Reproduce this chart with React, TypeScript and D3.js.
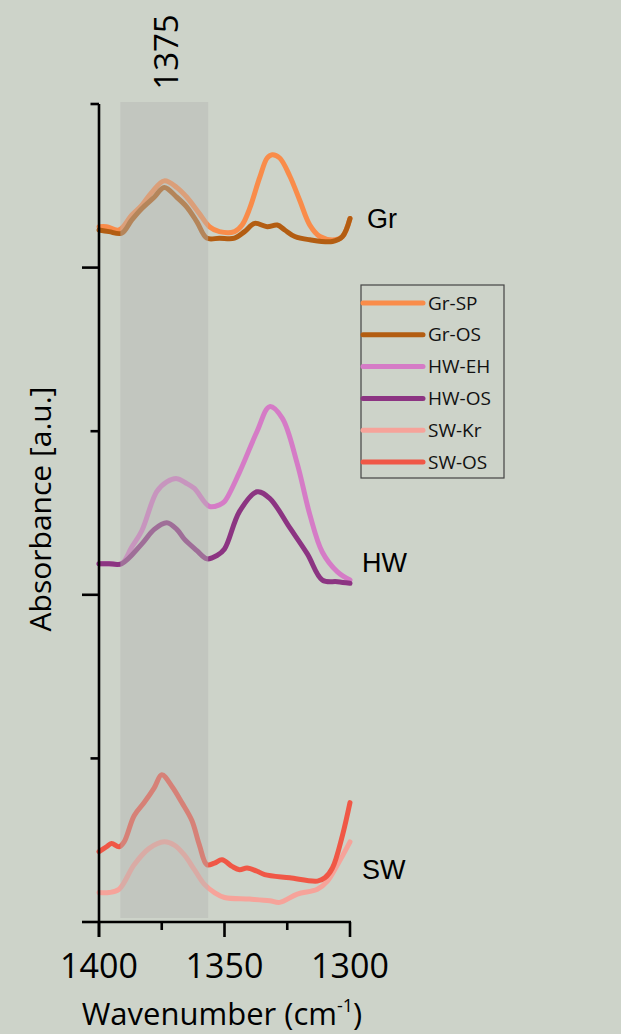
import React from "react";
import * as d3 from "d3";

const W = 621;
const H = 1034;

const seriesNames = ["Gr-SP", "Gr-OS", "HW-EH", "HW-OS", "SW-Kr", "SW-OS"];
const seriesColors = ["#F98C4A", "#B35D12", "#D57BC6", "#8C3482", "#F6A39A", "#F05746"];

const grSP: [number, number][] = [
  [1400, 4.25], [1397, 4.25], [1392, 4.23], [1387, 4.32], [1383, 4.38], [1379, 4.46], [1374, 4.53],
  [1369, 4.49], [1365, 4.43], [1360, 4.33], [1356, 4.25], [1352, 4.22], [1346, 4.22], [1343, 4.26],
  [1340, 4.36], [1336, 4.55], [1333, 4.67], [1331, 4.69], [1328, 4.67], [1324, 4.56], [1320, 4.41],
  [1316, 4.26], [1312, 4.19], [1306, 4.17], [1303, 4.19], [1300, 4.30],
];
const grOS: [number, number][] = [
  [1400, 4.23], [1396, 4.22], [1391, 4.21], [1387, 4.29], [1383, 4.36], [1378, 4.43], [1374, 4.49],
  [1369, 4.43], [1365, 4.37], [1361, 4.28], [1357, 4.18], [1352, 4.18], [1346, 4.18], [1342, 4.22],
  [1338, 4.27], [1333, 4.25], [1329, 4.26], [1326, 4.23], [1322, 4.19], [1316, 4.17], [1307, 4.16],
  [1303, 4.19], [1300, 4.30],
];
const hwEH: [number, number][] = [
  [1400, 2.19], [1396, 2.19], [1391, 2.19], [1387, 2.29], [1383, 2.39], [1377, 2.63], [1373, 2.69],
  [1369, 2.71], [1365, 2.68], [1362, 2.65], [1356, 2.54], [1352, 2.55], [1350, 2.57], [1344, 2.75],
  [1337, 3.00], [1332, 3.15], [1327, 3.08], [1321, 2.80], [1316, 2.49], [1311, 2.26], [1305, 2.14],
  [1300, 2.09],
];
const hwOS: [number, number][] = [
  [1400, 2.19], [1396, 2.19], [1391, 2.19], [1383, 2.31], [1378, 2.40], [1373, 2.44], [1369, 2.40],
  [1366, 2.34], [1361, 2.27], [1357, 2.22], [1353, 2.24], [1350, 2.28], [1344, 2.51], [1337, 2.63],
  [1332, 2.59], [1324, 2.41], [1317, 2.25], [1311, 2.09], [1305, 2.08], [1300, 2.07],
];
const swKr: [number, number][] = [
  [1400, 0.18], [1396, 0.18], [1392, 0.20], [1386, 0.35], [1380, 0.45], [1374, 0.49], [1370, 0.47],
  [1366, 0.41], [1362, 0.32], [1358, 0.23], [1354, 0.18], [1350, 0.15], [1340, 0.14], [1332, 0.13],
  [1328, 0.12], [1321, 0.17], [1313, 0.20], [1309, 0.25], [1305, 0.35], [1300, 0.49],
];
const swOS: [number, number][] = [
  [1400, 0.43], [1397, 0.46], [1395, 0.48], [1392, 0.46], [1390, 0.49], [1386, 0.65], [1382, 0.73],
  [1378, 0.82], [1375, 0.90], [1371, 0.83], [1367, 0.73], [1363, 0.62], [1360, 0.47], [1357, 0.35],
  [1354, 0.36], [1351, 0.38], [1347, 0.34], [1344, 0.32], [1341, 0.33], [1337, 0.31], [1334, 0.29],
  [1324, 0.27], [1313, 0.25], [1310, 0.27], [1307, 0.33], [1303, 0.53], [1300, 0.73],
];
const seriesData = [grSP, grOS, hwEH, hwOS, swKr, swOS];

const xMajorTicks = [1400, 1350, 1300];
const xMinorTicks = [1375, 1325];
const yMajorTicks = [0, 2, 4];
const yMinorTicks = [1, 3, 5];
const groupLabels = ["Gr", "HW", "SW"];
const groupLabelY = [4.24, 2.14, 0.26];
const bandStart = 1391.5;
const bandEnd = 1356.5;
const bandLabel = "1375";

const x = d3.scaleLinear().domain([1400, 1300]).range([99, 350]);
const y = d3.scaleLinear().domain([0, 5]).range([922, 104]);

const line = d3
  .line<[number, number]>()
  .x((d) => x(d[0]))
  .y((d) => y(d[1]))
  .curve(d3.curveCatmullRom.alpha(0.5));

export default function App() {
  const fontAxis = "'Open Sans', 'Noto Sans', sans-serif";
  const fontGroup = "'Liberation Sans', Arial, sans-serif";
  const legendX = 361;
  const legendY = 285;
  const legendRow = 31.8;
  return (
    <svg
      width={W}
      height={H}
      style={{ position: "absolute", left: 0, top: 0, display: "block" }}
    >
      <rect x={0} y={0} width={W} height={H} fill="#CDD3C9" />
      {seriesData.map((d, i) => (
        <path
          key={seriesNames[i]}
          d={line(d) || ""}
          fill="none"
          stroke={seriesColors[i]}
          strokeWidth={5}
          strokeLinejoin="round"
          strokeLinecap="round"
        />
      ))}
      <rect
        x={x(bandStart)}
        y={y(5) - 2}
        width={x(bandEnd) - x(bandStart)}
        height={y(0) - 4 - (y(5) - 2)}
        fill="#B5B6B4"
        opacity={0.45}
      />
      <line x1={x(1400)} x2={x(1400)} y1={y(5)} y2={y(0) + 15} stroke="#000" strokeWidth={2.6} />
      {yMajorTicks.map((t) => (
        <line key={"ym" + t} x1={x(1400) - 17} x2={x(1400)} y1={y(t)} y2={y(t)} stroke="#000" strokeWidth={2.6} />
      ))}
      {yMinorTicks.map((t) => (
        <line key={"yn" + t} x1={x(1400) - 8.5} x2={x(1400)} y1={y(t)} y2={y(t)} stroke="#000" strokeWidth={2.6} />
      ))}
      <line x1={x(1400)} x2={x(1300) + 1} y1={y(0)} y2={y(0)} stroke="#000" strokeWidth={2.6} />
      {xMajorTicks.map((t) => (
        <line key={"xm" + t} x1={x(t)} x2={x(t)} y1={y(0)} y2={y(0) + 15} stroke="#000" strokeWidth={2.6} />
      ))}
      {xMinorTicks.map((t) => (
        <line key={"xn" + t} x1={x(t)} x2={x(t)} y1={y(0)} y2={y(0) + 8} stroke="#000" strokeWidth={2.6} />
      ))}
      {xMajorTicks.map((t) => (
        <text key={"xl" + t} x={x(t)} y={978} textAnchor="middle" fontFamily={fontAxis} fontSize={34} fill="#000">
          {t}
        </text>
      ))}
      <text x={222} y={1025} textAnchor="middle" fontFamily={fontAxis} fontSize={31} fill="#000">
        Wavenumber (cm
        <tspan fontSize={18} dy={-13}>-1</tspan>
        <tspan dy={13}>)</tspan>
      </text>
      <text
        transform={`translate(51, 509) rotate(-90)`}
        textAnchor="middle"
        fontFamily={fontAxis}
        fontSize={30}
        fill="#000"
      >
        Absorbance [a.u.]
      </text>
      <text
        transform={`translate(178, 52) rotate(-90)`}
        textAnchor="middle"
        fontFamily={fontAxis}
        fontSize={33}
        fill="#000"
      >
        {bandLabel}
      </text>
      {groupLabels.map((g, i) => (
        <text key={g} x={i === 0 ? 367 : 362} y={y(groupLabelY[i])} fontFamily={fontGroup} fontSize={27} fill="#000">
          {g}
        </text>
      ))}
      <rect x={legendX} y={legendY} width={143} height={193} fill="none" stroke="#444" strokeWidth={1.2} />
      {seriesNames.map((n, i) => {
        const cy = legendY + 18 + i * legendRow;
        return (
          <g key={"lg" + n}>
            <line x1={legendX + 2} x2={legendX + 62} y1={cy} y2={cy} stroke={seriesColors[i]} strokeWidth={5} strokeLinecap="round" />
            <text x={legendX + 67} y={cy + 6.5} fontFamily={fontAxis} fontSize={19} fill="#111">
              {n}
            </text>
          </g>
        );
      })}
    </svg>
  );
}
